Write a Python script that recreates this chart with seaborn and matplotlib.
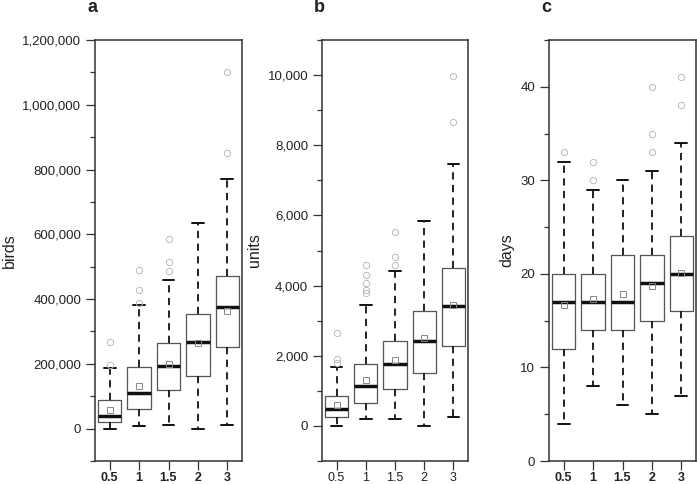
import matplotlib
matplotlib.use("Agg")
import matplotlib.pyplot as plt
from matplotlib.ticker import FuncFormatter, MultipleLocator
import seaborn as sns

sns.set_style("ticks")
plt.rcParams["font.family"] = ["Liberation Sans Narrow", "Liberation Sans", "DejaVu Sans"]

categories = ["0.5", "1", "1.5", "2", "3"]

# --- panel a: birds ---
birds_lo = [0, 8000, 12000, 0, 12000]
birds_q1 = [21000, 62000, 120000, 164000, 251000]
birds_med = [40000, 110000, 192000, 266000, 374000]
birds_q3 = [88000, 190000, 263000, 354000, 472000]
birds_hi = [186000, 382000, 458000, 635000, 770000]
birds_mean = [57000, 133000, 200000, 263000, 364000]
birds_fliers = [[268000, 196000], [489000, 428000, 388000],
                [586000, 514000, 486000], [], [1100000, 851000]]

# --- panel b: units ---
units_lo = [0, 208, 208, 0, 266]
units_q1 = [266, 648, 1056, 1513, 2275]
units_med = [494, 1142, 1779, 2417, 3426]
units_q3 = [848, 1779, 2427, 3283, 4511]
units_hi = [1684, 3435, 4408, 5833, 7470]
units_mean = [608, 1313, 1874, 2503, 3440]
units_fliers = [[2660, 1900, 1800], [4600, 4300, 4060, 3870, 3800],
                [5530, 4817, 4577], [], [9960, 8650]]

# --- panel c: days ---
days_lo = [4, 8, 6, 5, 7]
days_q1 = [12, 14, 14, 15, 16]
days_med = [17, 17, 17, 19, 20]
days_q3 = [20, 20, 22, 22, 24]
days_hi = [32, 29, 30, 31, 34]
days_mean = [16.7, 17.3, 17.9, 18.7, 20.1]
days_fliers = [[33], [32, 30], [], [40, 35, 33], [41, 38]]


def build_stats(lo, q1, med, q3, hi, mean, fliers):
    return [dict(whislo=a, q1=b, med=c, q3=d, whishi=e, mean=m, fliers=f)
            for a, b, c, d, e, m, f in zip(lo, q1, med, q3, hi, mean, fliers)]


def draw_panel(ax, stats, ylim, major, minor, ylabel, bold_x):
    ax.bxp(stats, positions=range(1, 6), widths=0.8, capwidths=0.4,
           showmeans=True, patch_artist=False,
           boxprops=dict(color="#555555", linewidth=0.9),
           medianprops=dict(color="#111111", linewidth=2.5, solid_capstyle="butt"),
           whiskerprops=dict(color="#111111", linewidth=1.3, linestyle=(0, (4, 3))),
           capprops=dict(color="#111111", linewidth=1.4),
           flierprops=dict(marker="o", markerfacecolor="none", markeredgecolor="#bbbbbb",
                           markersize=4.5, markeredgewidth=0.7),
           meanprops=dict(marker="s", markerfacecolor="none", markeredgecolor="#888888",
                          markersize=4, markeredgewidth=0.7))
    ax.set_xlim(0.5, 5.5)
    ax.set_ylim(*ylim)
    ax.yaxis.set_major_locator(MultipleLocator(major))
    ax.yaxis.set_minor_locator(MultipleLocator(minor))
    ax.yaxis.set_major_formatter(FuncFormatter(lambda v, p: f"{int(round(v)):,}"))
    ax.set_xticks(range(1, 6))
    ax.set_xticklabels(categories, fontweight="bold" if bold_x else "normal")
    ax.tick_params(axis="both", which="major", length=6.5, width=0.9, color="#333333",
                   labelsize=9.5, labelcolor="#222222", pad=3.5)
    ax.tick_params(axis="x", which="major", labelsize=9, pad=1.5)
    ax.tick_params(axis="y", which="minor", length=3.6, width=0.9, color="#333333")
    for s in ax.spines.values():
        s.set_visible(True)
        s.set_color("#333333")
        s.set_linewidth(1.1)
    ax.set_ylabel(ylabel, fontsize=11.5, color="#222222", labelpad=4)
    ax.set_xlabel("")


fig = plt.figure(figsize=(6.97, 4.84), dpi=100)
W, H = 697, 484
panels = [
    (95, 147, build_stats(birds_lo, birds_q1, birds_med, birds_q3, birds_hi, birds_mean, birds_fliers),
     (-100000, 1200000), 200000, 100000, "birds", True, "a"),
    (322, 146, build_stats(units_lo, units_q1, units_med, units_q3, units_hi, units_mean, units_fliers),
     (-1000, 11000), 2000, 1000, "units", False, "b"),
    (549, 147, build_stats(days_lo, days_q1, days_med, days_q3, days_hi, days_mean, days_fliers),
     (0, 45), 10, 5, "days", True, "c"),
]
for left, width, stats, ylim, major, minor, ylabel, bold_x, letter in panels:
    ax = fig.add_axes([left / W, (H - 461) / H, width / W, 421 / H])
    draw_panel(ax, stats, ylim, major, minor, ylabel, bold_x)
    fig.text((left - 8) / W, 1 - 12 / H, letter, fontsize=13, fontweight="bold",
             family=["Liberation Sans", "DejaVu Sans"], va="baseline", ha="left", color="#222222")

fig.savefig("out.png", dpi=100)
